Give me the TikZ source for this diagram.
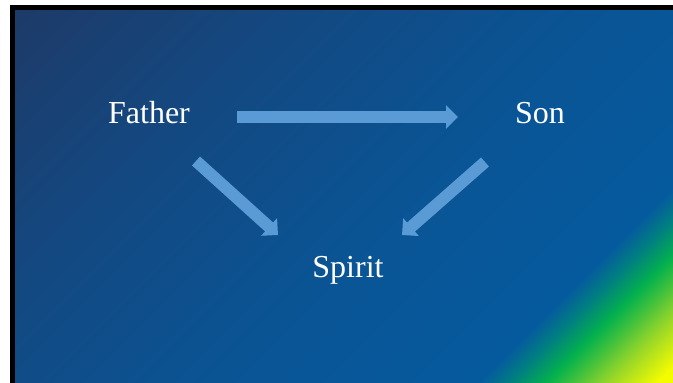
\documentclass[tikz,border=0pt]{standalone}
\usepackage{fontspec}
\setmainfont{Liberation Serif}
\usetikzlibrary{arrows.meta}
\definecolor{arrowblue}{RGB}{91,155,213}
\pgfdeclarehorizontalshading{slidebg}{100bp}{%
  rgb(0bp)=(0.118,0.224,0.4); rgb(25bp)=(0.118,0.224,0.4);
  rgb(39bp)=(0.078,0.282,0.502); rgb(53bp)=(0.039,0.329,0.58);
  rgb(65.7bp)=(0.02,0.353,0.62); rgb(67.3bp)=(0,0.51,0.49);
  rgb(69bp)=(0.02,0.698,0.294); rgb(71.8bp)=(0.59,0.84,0.157);
  rgb(74.2bp)=(0.96,0.99,0); rgb(100bp)=(1,1,0)}
\tikzset{
  lbl/.style={text=white,inner sep=0pt,anchor=base,font=\fontsize{32}{38}\selectfont},
  bigarrow/.style={draw=arrowblue,line width=12pt,-{Triangle[width=23pt,length=12pt]}}
}
\begin{document}
\begin{tikzpicture}[x=1pt,y=-1pt]
\useasboundingbox (0,0) rectangle (673,383);
\fill[white] (0,0) rectangle (673,383);
% frame and background of the slide
\fill[black] (10,5) rectangle (673,383);
\begin{scope}
\clip (15,10) rectangle (673,383);
\begin{scope}[transform canvas={rotate=-45}]
\shade[shading=slidebg] (0pt,-600pt) rectangle (747.3pt,600pt);
\end{scope}
\end{scope}
% the three names
\node[lbl] (father) at (149,123) {Father};
\node[lbl] (son) at (540,123) {Son};
\node[lbl] (spirit) at (348,277) {Spirit};
% arrows between them
\draw[bigarrow] ([xshift=88pt,yshift=6pt]father.base) -- ([xshift=-82pt,yshift=6pt]son.base);
\draw[bigarrow] ([xshift=47pt,yshift=-38pt]father.base) -- ([xshift=-70pt,yshift=42pt]spirit.base);
\draw[bigarrow] ([xshift=-55pt,yshift=-39pt]son.base) -- ([xshift=54pt,yshift=42pt]spirit.base);
\end{tikzpicture}
\end{document}
